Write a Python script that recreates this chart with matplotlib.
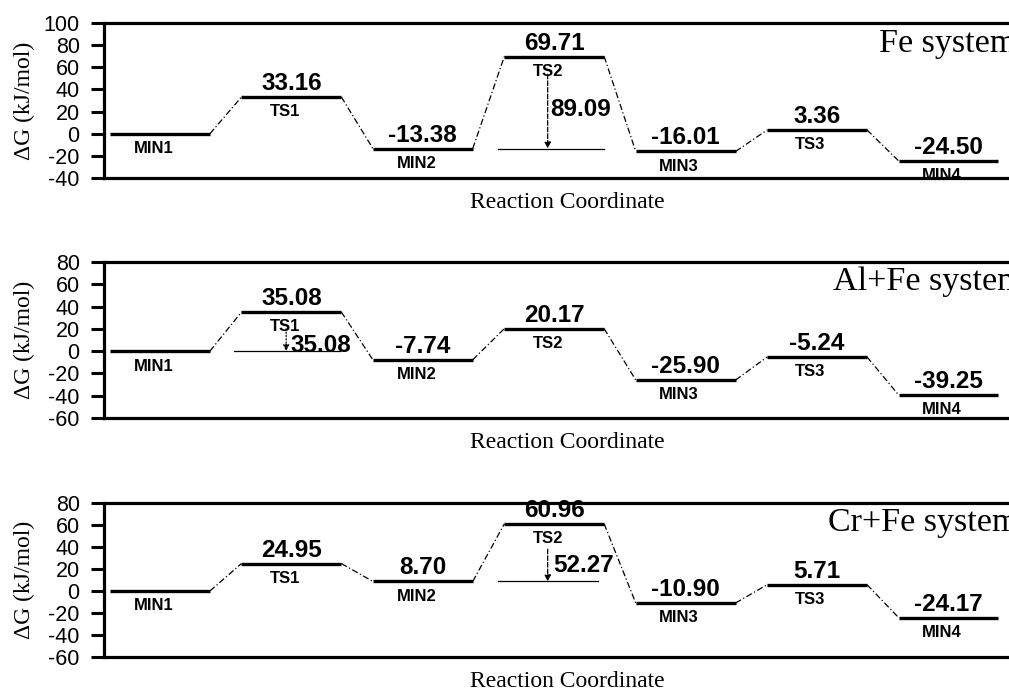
import matplotlib.pyplot as plt

plt.rcParams['axes.unicode_minus'] = False

# etats le long de la coordonnee de reaction
states = ['MIN1', 'TS1', 'MIN2', 'TS2', 'MIN3', 'TS3', 'MIN4']

# energies libres (kJ/mol) pour chaque systeme
fe_energy = [0.0, 33.16, -13.38, 69.71, -16.01, 3.36, -24.50]
alfe_energy = [0.0, 35.08, -7.74, 20.17, -25.90, -5.24, -39.25]
crfe_energy = [0.0, 24.95, 8.70, 60.96, -10.90, 5.71, -24.17]

system_names = ['Fe system', 'Al+Fe system', 'Cr+Fe system']

# barriere annotee : (etat haut, etat bas, texte)
fe_barrier = (3, 2, '89.09')
alfe_barrier = (1, 0, '35.08')
crfe_barrier = (3, 2, '52.27')

y_limits = [(-40, 100), (-60, 80), (-60, 80)]
y_ticks = [range(-40, 101, 20), range(-60, 81, 20), range(-60, 81, 20)]

SANS = 'Liberation Sans'
SERIF = 'Liberation Serif'
W = 0.76  # largeur d'un palier


def draw_panel(ax, energies, barrier, name, ylim, yticks, title_pos, arrow_cfg):
    n = len(energies)
    for i, (e, lab) in enumerate(zip(energies, states)):
        ax.plot([i, i + W], [e, e], color='black', lw=2.4, solid_capstyle='butt', zorder=3)
        if i < n - 1:
            ax.plot([i + W, i + 1], [e, energies[i + 1]], color='black', lw=0.9,
                    ls=(0, (5, 2, 1, 2)), zorder=2)
        if i > 0:
            ax.annotate(f'{e:.2f}', xy=(i + W / 2, e), xytext=(0, 5), textcoords='offset points',
                        ha='center', va='baseline', fontsize=17.5, fontweight='bold', family=SANS)
        ax.annotate(lab, xy=(i + W / 2 - 0.05, e), xytext=(0, -14), textcoords='offset points',
                    ha='center', va='baseline', fontsize=12, fontweight='bold', family=SANS,
                    annotation_clip=True, clip_on=True)

    hi, lo, txt = barrier
    ax_x, start_drop, ls, ref_l, ref_r, txt_x, txt_y = arrow_cfg
    ax.plot([ref_l, ref_r], [energies[lo], energies[lo]], color='black', lw=0.9, zorder=2)
    ax.annotate('', xy=(ax_x, energies[lo]), xytext=(ax_x, energies[hi] - start_drop),
                arrowprops=dict(arrowstyle='-|>', color='black', lw=0.9, ls=ls,
                                mutation_scale=9, shrinkA=0, shrinkB=0))
    ax.text(txt_x, txt_y, txt, ha='left', va='center', fontsize=17.5, fontweight='bold', family=SANS)

    ax.set_xlim(-0.046, 7.0)
    ax.set_ylim(*ylim)
    ax.set_yticks(list(yticks))
    ax.tick_params(axis='y', direction='out', length=9.5, width=2.2, pad=8, labelsize=15.5)
    ax.tick_params(axis='x', bottom=False, labelbottom=False)
    for lbl in ax.get_yticklabels():
        lbl.set_family(SANS)
    for side in ['left', 'bottom', 'top', 'right']:
        ax.spines[side].set_linewidth(2.3)
        ax.spines[side].set_zorder(5)
    ax.set_ylabel('ΔG (kJ/mol)', family=SERIF, fontsize=17)
    ax.yaxis.set_label_coords(-0.074, 0.5)
    ax.set_xlabel('Reaction Coordinate', family=SERIF, fontsize=17, labelpad=10)
    ax.figure.text(title_pos[0], title_pos[1], name, family=SERIF, fontsize=24.5,
                   ha='left', va='baseline')


if __name__ == "__main__":
    fig = plt.figure(figsize=(10.09, 6.91), dpi=100)
    left, width = 104 / 1009, (1030 - 104) / 1009
    rects = [(left, 1 - 178 / 691, width, 155 / 691),
             (left, 1 - 418 / 691, width, 156 / 691),
             (left, 1 - 657 / 691, width, 154 / 691)]
    titles = [(879 / 1009, 1 - 52 / 691), (833 / 1009, 1 - 290 / 691), (828 / 1009, 1 - 531 / 691)]
    arrows = [
        (3.33, 16, '--', 2.95, 3.76, 3.35, 21.5),
        (1.34, 15, ':', 0.94, 1.75, 1.37, 5.5),
        (3.33, 23, '--', 2.95, 3.71, 3.37, 23.5),
    ]
    all_energy = [fe_energy, alfe_energy, crfe_energy]
    barriers = [fe_barrier, alfe_barrier, crfe_barrier]

    for k in range(3):
        ax = fig.add_axes(rects[k])
        draw_panel(ax, all_energy[k], barriers[k], system_names[k], y_limits[k],
                   y_ticks[k], titles[k], arrows[k])

    fig.savefig('out.png', dpi=100)
